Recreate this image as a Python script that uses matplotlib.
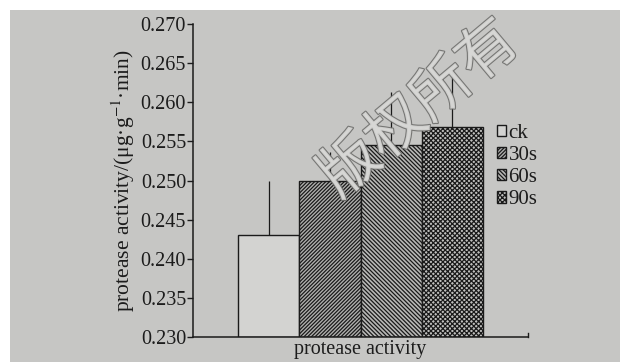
import matplotlib
matplotlib.use("Agg")
import matplotlib.pyplot as plt
import matplotlib.patheffects as pe
from matplotlib.patches import Rectangle

# data
groups = ["ck", "30s", "60s", "90s"]
means = [0.2430, 0.2499, 0.2545, 0.2568]
err_up = [0.0070, 0.0037, 0.0068, 0.0080]
hatches = ["", "/" * 9, "\\" * 8, "x" * 7]
fills = ["#d3d3d1", "#b0b0ae", "#b8b8b6", "#c0c0be"]
yticks = [0.230, 0.235, 0.240, 0.245, 0.250, 0.255, 0.260, 0.265, 0.270]

plt.rcParams["font.family"] = ["Liberation Serif", "DejaVu Serif"]
plt.rcParams["mathtext.fontset"] = "stix"
plt.rcParams["hatch.linewidth"] = 0.9
plt.rcParams["hatch.color"] = "#2e2e2e"

fig = plt.figure(figsize=(6.2, 3.62), dpi=100)
fig.patch.set_facecolor("white")
# scanned page background
fig.add_artist(Rectangle((10 / 620, 0), 1, 1 - 10 / 362, transform=fig.transFigure,
                         facecolor="#c6c6c4", edgecolor="none", zorder=-5))

ax = fig.add_axes([193 / 620, 1 - 337 / 362, (528 - 193) / 620, (337 - 24) / 362])
ax.set_facecolor("none")

xs = list(range(len(groups)))
bars = ax.bar(xs, [m - 0.230 for m in means], bottom=0.230, width=1.0,
              color=fills, edgecolor="#1a1a1a", linewidth=1.0, zorder=2)
for b, h in zip(bars, hatches):
    b.set_hatch(h)
ax.errorbar(xs, means, yerr=[[0] * len(means), err_up], fmt="none",
            ecolor="#1a1a1a", elinewidth=0.9, capsize=0, zorder=3)

ax.set_xlim(-1.235, 4.235)
ax.set_ylim(0.230, 0.270)
ax.set_yticks(yticks)
ax.set_yticklabels([f"{t:.3f}" for t in yticks], fontsize=14.5, color="#1c1c1c")
ax.set_xticks([])
ax.tick_params(axis="y", direction="out", length=4, width=1.0, pad=1, colors="#1c1c1c")
for s in ["top", "right"]:
    ax.spines[s].set_visible(False)
for s in ["left", "bottom"]:
    ax.spines[s].set_linewidth(1.1)
    ax.spines[s].set_color("#1a1a1a")
# small end tick on the x axis
ax.plot([1, 1], [0, 0.013], transform=ax.transAxes, color="#1a1a1a", lw=1.0, clip_on=False)

ax.set_ylabel("protease activity/(μg·g$^{-1}$·min)", fontsize=15.5, color="#1c1c1c", labelpad=3)
ax.set_xlabel("protease activity", fontsize=14.5, color="#1c1c1c", labelpad=2)

leg = ax.legend(bars, groups, loc="upper left", bbox_to_anchor=(497 / 620, 1 - 124 / 362),
                bbox_transform=fig.transFigure, frameon=False, fontsize=15,
                handlelength=0.45, handleheight=0.45, handletextpad=0.1,
                labelspacing=0.15, borderpad=0, borderaxespad=0)
for t in leg.get_texts():
    t.set_color("#1c1c1c")

# watermark
fig.text(420 / 620, 1 - 110 / 362, "版权所有", fontsize=43, rotation=40,
         ha="center", va="center", family=["Noto Sans CJK SC", "DejaVu Sans"],
         color="#d8d8d6", alpha=0.9, zorder=10,
         path_effects=[pe.withStroke(linewidth=1.6, foreground="#6e6e6c")])

fig.savefig("out.png", dpi=100)
